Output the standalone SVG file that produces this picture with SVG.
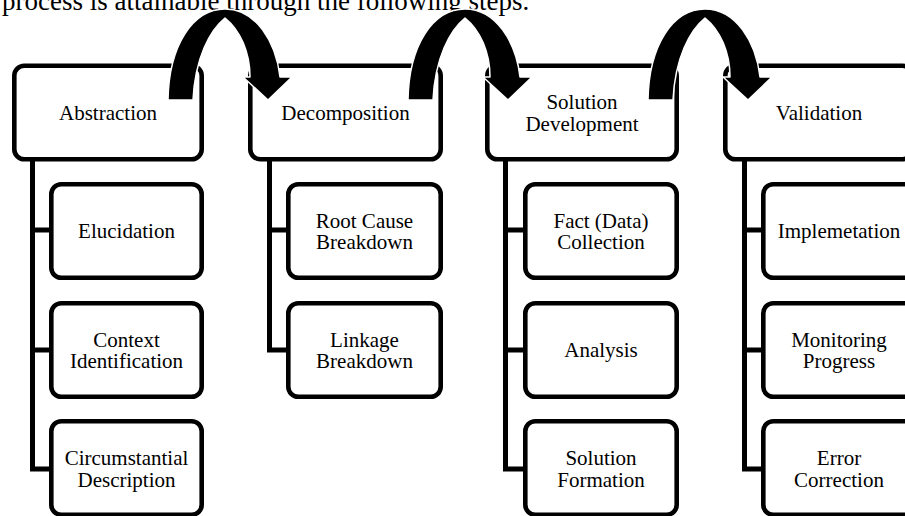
<svg xmlns="http://www.w3.org/2000/svg" width="905" height="516" viewBox="0 0 905 516">
<defs>
<style>
.box{fill:#fff;stroke:#000;stroke-width:4.6}
.conn{fill:none;stroke:#000;stroke-width:5;stroke-linejoin:miter}
.t{font-family:"Liberation Serif","Times New Roman",serif;font-size:21px;fill:#000;text-anchor:middle}
.title{font-family:"Liberation Serif","Times New Roman",serif;font-size:27px;fill:#000}
.arrow{fill:#000;stroke:#fff;stroke-width:1.5;stroke-linejoin:round}
</style>
<path id="arr" d="M0,100 C1,45 25,9 57,9 C88,9 108,42 112,77 L124,77 L100,100 L75,77 L82,77 C82,52 72,30 57,18 C42,30 27,58 25,100 Z"/>
</defs>
<rect width="905" height="516" fill="#fff"/>
<text class="title" x="2" y="10">process is attainable through the following steps.</text>

<g id="connectors">
<path class="conn" d="M32.5,161 V469 H50 M32.5,230 H50 M32.5,350 H50"/>
<path class="conn" d="M269.5,161 V350 H287 M269.5,230 H287"/>
<path class="conn" d="M505.5,161 V469 H524 M505.5,230 H524 M505.5,350 H524"/>
<path class="conn" d="M744.5,161 V469 H762 M744.5,230 H762 M744.5,350 H762"/>
</g>

<g id="abstraction">
<rect class="box" x="14.3" y="65.8" width="187.4" height="93.4" rx="10"/>
<text class="t" x="108" y="119.5">Abstraction</text>
</g>
<g id="elucidation">
<rect class="box" x="51.3" y="184.3" width="150.4" height="93.4" rx="10"/>
<text class="t" x="126.5" y="237.5">Elucidation</text>
</g>
<g id="context-identification">
<rect class="box" x="51.3" y="303.3" width="150.4" height="93.4" rx="10"/>
<text class="t" x="126.5" y="346.5">Context</text>
<text class="t" x="126.5" y="368">Identification</text>
</g>
<g id="circumstantial-description">
<rect class="box" x="51.3" y="421.3" width="150.4" height="93.4" rx="10"/>
<text class="t" x="126.5" y="465">Circumstantial</text>
<text class="t" x="126.5" y="486.5">Description</text>
</g>

<g id="decomposition">
<rect class="box" x="250.3" y="65.8" width="190.4" height="93.4" rx="10"/>
<text class="t" x="345.5" y="119.5">Decomposition</text>
</g>
<g id="root-cause-breakdown">
<rect class="box" x="288.3" y="184.3" width="152.4" height="93.4" rx="10"/>
<text class="t" x="364.5" y="227.5">Root Cause</text>
<text class="t" x="364.5" y="249">Breakdown</text>
</g>
<g id="linkage-breakdown">
<rect class="box" x="288.3" y="303.3" width="152.4" height="93.4" rx="10"/>
<text class="t" x="364.5" y="346.5">Linkage</text>
<text class="t" x="364.5" y="368">Breakdown</text>
</g>

<g id="solution-development">
<rect class="box" x="487.3" y="65.8" width="189.4" height="93.4" rx="10"/>
<text class="t" x="582" y="109">Solution</text>
<text class="t" x="582" y="130.5">Development</text>
</g>
<g id="fact-data-collection">
<rect class="box" x="525.3" y="184.3" width="151.4" height="93.4" rx="10"/>
<text class="t" x="601" y="227.5">Fact (Data)</text>
<text class="t" x="601" y="249">Collection</text>
</g>
<g id="analysis">
<rect class="box" x="525.3" y="303.3" width="151.4" height="93.4" rx="10"/>
<text class="t" x="601" y="356.5">Analysis</text>
</g>
<g id="solution-formation">
<rect class="box" x="525.3" y="421.3" width="151.4" height="93.4" rx="10"/>
<text class="t" x="601" y="465">Solution</text>
<text class="t" x="601" y="486.5">Formation</text>
</g>

<g id="validation">
<rect class="box" x="725.3" y="65.8" width="187.4" height="93.4" rx="10"/>
<text class="t" x="819" y="119.5">Validation</text>
</g>
<g id="implemetation">
<rect class="box" x="763.3" y="184.3" width="151.4" height="93.4" rx="10"/>
<text class="t" x="839" y="237.5">Implemetation</text>
</g>
<g id="monitoring-progress">
<rect class="box" x="763.3" y="303.3" width="151.4" height="93.4" rx="10"/>
<text class="t" x="839" y="346.5">Monitoring</text>
<text class="t" x="839" y="368">Progress</text>
</g>
<g id="error-correction">
<rect class="box" x="763.3" y="421.3" width="151.4" height="93.4" rx="10"/>
<text class="t" x="839" y="465">Error</text>
<text class="t" x="839" y="486.5">Correction</text>
</g>

<g id="flow-arrows">
<use href="#arr" class="arrow" x="168" y="0"/>
<use href="#arr" class="arrow" x="408" y="0"/>
<use href="#arr" class="arrow" x="648" y="0"/>
</g>
</svg>
